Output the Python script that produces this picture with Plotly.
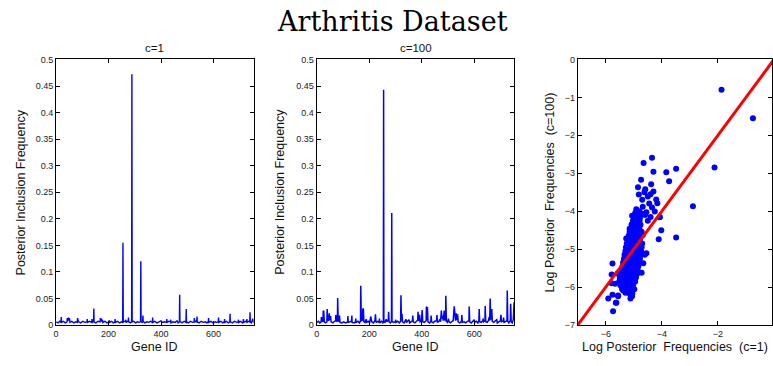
import plotly.graph_objects as go

c1_gene = [1, 8, 14, 19, 20, 21, 28, 35, 42, 43, 45, 47, 49, 51, 53, 60, 68, 75, 81, 82, 84, 86, 94, 102, 110,
           118, 119, 120, 128, 136, 137, 138, 143, 144, 145, 152, 160, 168, 169, 171, 173, 175, 177, 178, 186,
           194, 202, 203, 204, 212, 218, 224, 225, 226, 234, 242, 249, 254, 255, 256, 260, 265, 266, 267, 272,
           275, 276, 277, 283, 288, 289, 290, 296, 303, 310, 316, 322, 323, 324, 328, 330, 331, 332, 338, 346,
           354, 360, 367, 368, 369, 376, 384, 392, 398, 400, 405, 413, 421, 422, 423, 430, 436, 437, 438, 446,
           454, 461, 465, 470, 471, 472, 474, 480, 488, 495, 496, 497, 504, 512, 520, 526, 527, 528, 532, 536,
           537, 538, 545, 553, 561, 569, 575, 580, 581, 582, 590, 598, 606, 612, 618, 619, 620, 628, 635, 641,
           642, 643, 650, 656, 662, 663, 664, 672, 680, 688, 694, 695, 696, 704, 710, 713, 714, 715, 722, 726,
           727, 728, 734, 738, 739, 740, 744, 748, 750, 752, 755]
c1_freq = [0.006, 0.004, 0.007, 0.005, 0.015, 0.005, 0.007, 0.004, 0.006, 0.013, 0.008, 0.014, 0.009, 0.013, 0.005,
           0.007, 0.004, 0.006, 0.005, 0.013, 0.009, 0.006, 0.004, 0.007, 0.005, 0.006, 0.011, 0.005, 0.007, 0.005,
           0.011, 0.005, 0.006, 0.031, 0.006, 0.004, 0.007, 0.006, 0.013, 0.008, 0.012, 0.006, 0.010, 0.005, 0.007,
           0.004, 0.006, 0.009, 0.005, 0.007, 0.004, 0.006, 0.011, 0.005, 0.007, 0.004, 0.006, 0.005, 0.155, 0.005,
           0.007, 0.006, 0.010, 0.005, 0.007, 0.006, 0.014, 0.006, 0.004, 0.006, 0.472, 0.006, 0.007, 0.004, 0.006,
           0.005, 0.006, 0.120, 0.006, 0.005, 0.006, 0.018, 0.007, 0.004, 0.006, 0.005, 0.007, 0.005, 0.014, 0.005,
           0.007, 0.004, 0.006, 0.007, 0.008, 0.005, 0.006, 0.005, 0.011, 0.005, 0.007, 0.006, 0.010, 0.004, 0.006,
           0.005, 0.008, 0.004, 0.006, 0.057, 0.007, 0.006, 0.004, 0.007, 0.005, 0.030, 0.006, 0.004, 0.007, 0.005,
           0.006, 0.013, 0.005, 0.007, 0.006, 0.016, 0.006, 0.004, 0.007, 0.005, 0.006, 0.004, 0.006, 0.013, 0.005,
           0.007, 0.004, 0.006, 0.005, 0.006, 0.014, 0.005, 0.007, 0.004, 0.006, 0.011, 0.005, 0.007, 0.004, 0.006,
           0.021, 0.006, 0.004, 0.007, 0.005, 0.006, 0.010, 0.005, 0.007, 0.004, 0.006, 0.011, 0.005, 0.007, 0.006,
           0.011, 0.005, 0.007, 0.006, 0.024, 0.006, 0.004, 0.008, 0.012, 0.006, 0.005]

c100_gene = [1, 6, 12, 17, 18, 20, 24, 25, 27, 29, 34, 39, 40, 42, 46, 48, 50, 53, 55, 62, 68, 72, 73, 75, 79, 80,
             82, 85, 87, 89, 96, 103, 110, 118, 119, 120, 127, 133, 134, 135, 142, 148, 149, 150, 157, 163, 167,
             168, 170, 174, 176, 178, 180, 184, 189, 190, 197, 202, 206, 208, 210, 216, 222, 224, 226, 232, 238,
             239, 240, 247, 252, 254, 255, 256, 260, 265, 267, 273, 274, 276, 281, 285, 286, 287, 293, 300, 301,
             302, 309, 315, 320, 321, 323, 325, 327, 333, 338, 340, 342, 348, 352, 354, 360, 365, 366, 368, 374,
             380, 385, 386, 388, 392, 394, 399, 402, 404, 410, 417, 418, 420, 422, 424, 430, 435, 436, 438, 444,
             450, 457, 458, 460, 466, 470, 472, 475, 477, 480, 482, 486, 488, 491, 492, 494, 498, 502, 504, 510,
             516, 520, 524, 526, 529, 532, 534, 537, 539, 545, 552, 553, 555, 562, 568, 575, 580, 581, 583, 589,
             595, 600, 602, 608, 614, 618, 619, 621, 627, 633, 634, 636, 641, 642, 644, 650, 655, 657, 659, 661,
             663, 667, 669, 675, 681, 686, 688, 694, 700, 702, 704, 710, 712, 714, 720, 725, 726, 728, 732, 735,
             738, 739, 741, 745, 749, 752, 754, 755]
c100_freq = [0.005, 0.007, 0.004, 0.006, 0.015, 0.008, 0.006, 0.027, 0.026, 0.006, 0.004, 0.006, 0.030, 0.010,
             0.008, 0.022, 0.009, 0.017, 0.006, 0.004, 0.007, 0.008, 0.019, 0.008, 0.006, 0.051, 0.007, 0.008,
             0.018, 0.005, 0.004, 0.006, 0.004, 0.006, 0.017, 0.005, 0.006, 0.007, 0.018, 0.005, 0.004, 0.006,
             0.012, 0.005, 0.007, 0.004, 0.008, 0.074, 0.008, 0.009, 0.031, 0.030, 0.006, 0.005, 0.011, 0.005,
             0.007, 0.004, 0.016, 0.010, 0.006, 0.004, 0.008, 0.020, 0.005, 0.007, 0.005, 0.012, 0.004, 0.007,
             0.004, 0.006, 0.443, 0.006, 0.005, 0.011, 0.006, 0.010, 0.025, 0.006, 0.004, 0.007, 0.211, 0.007,
             0.005, 0.006, 0.010, 0.005, 0.007, 0.004, 0.007, 0.056, 0.008, 0.021, 0.006, 0.004, 0.008, 0.011,
             0.005, 0.007, 0.010, 0.004, 0.006, 0.008, 0.018, 0.006, 0.004, 0.007, 0.009, 0.025, 0.008, 0.019,
             0.006, 0.007, 0.028, 0.006, 0.005, 0.008, 0.035, 0.009, 0.034, 0.006, 0.004, 0.007, 0.018, 0.006,
             0.004, 0.007, 0.008, 0.019, 0.005, 0.007, 0.011, 0.006, 0.027, 0.012, 0.018, 0.008, 0.027, 0.010,
             0.008, 0.055, 0.007, 0.005, 0.012, 0.006, 0.004, 0.007, 0.008, 0.035, 0.010, 0.008, 0.022, 0.009,
             0.020, 0.006, 0.004, 0.007, 0.019, 0.005, 0.006, 0.004, 0.007, 0.008, 0.035, 0.006, 0.004, 0.008,
             0.010, 0.005, 0.007, 0.004, 0.008, 0.030, 0.006, 0.005, 0.008, 0.012, 0.006, 0.008, 0.036, 0.006,
             0.005, 0.009, 0.015, 0.008, 0.050, 0.010, 0.030, 0.007, 0.005, 0.008, 0.010, 0.004, 0.006, 0.008,
             0.019, 0.006, 0.007, 0.014, 0.005, 0.007, 0.008, 0.065, 0.007, 0.004, 0.008, 0.009, 0.040, 0.006,
             0.004, 0.010, 0.043, 0.006, 0.005]

log_c1 = [
    -1.87, -0.75, -2.12, -2.89, -3.49, -3.49, -3.84, -3.74, -4.02, -4.11, -4.07, -4.35, -4.65, -4.30, -4.74,
    -5.74, -5.91, -5.76, -5.62, -5.56, -5.79, -5.76, -5.09, -5.12, -5.20, -4.55,
    -4.85, -4.38, -4.30, -4.59, -4.82, -4.50, -4.20, -4.16, -4.91, -4.68, -4.55, -4.25, -4.08, -5.06, -4.79,
    -4.50, -5.15, -4.68, -5.27, -4.61, -4.66, -4.72, -5.79, -5.58, -5.67, -5.15, -5.38, -5.56, -5.64, -5.06,
    -4.62, -4.40, -4.70, -4.45, -4.35, -4.60, -4.40, -4.80,
    -5.30, -5.18, -5.05,
    -5.42, -5.30, -5.22, -5.10, -4.98,
    -5.48, -5.35, -5.25, -5.14, -5.02,
    -5.52, -5.40, -5.28, -5.18, -5.06, -4.95,
    -5.50, -5.38, -5.27, -5.15, -5.04, -4.92,
    -5.45, -5.33, -5.22, -5.12, -5.00, -4.88,
    -5.42, -5.32, -5.20, -5.08, -4.97, -4.86,
    -5.40, -5.28, -5.17, -5.06, -4.95, -4.84,
    -5.38, -5.26, -5.15, -5.03, -4.92, -4.80,
    -5.35, -5.24, -5.12, -5.01, -4.90, -4.78,
    -5.33, -5.22, -5.10, -4.99, -4.88, -4.76,
    -5.30, -5.18, -5.07, -4.96, -4.85, -4.74,
    -5.28, -5.16, -5.05, -4.94, -4.83, -4.72,
    -5.25, -5.13, -5.02, -4.92, -4.80, -4.70,
    -5.22, -5.10, -5.00, -4.89, -4.78,
    -5.18, -5.07, -4.97, -4.86, -4.75,
    -5.15, -5.04, -4.94, -4.83, -4.72,
    -5.10, -5.00, -4.90, -4.80,
    -5.08, -4.97, -4.87, -4.76,
    -5.03, -4.93, -4.83,
    -5.00, -4.90, -4.78,
    -4.95, -4.84, -4.70,
]
log_c100 = [
    -0.80, -1.55, -2.85, -3.87, -2.88, -4.69, -2.97, -3.21, -4.50, -4.74, -4.15, -2.59, -2.73, -2.96, -3.17,
    -6.64, -6.30, -6.20, -6.41, -6.24, -5.90, -5.38, -6.24, -6.30, -6.14, -5.11,
    -3.37, -3.29, -3.48, -3.42, -3.56, -3.61, -3.69, -3.79, -3.95, -3.88, -4.03, -4.01, -4.16, -4.12, -4.25,
    -4.25, -4.46, -4.63, -4.72, -5.15, -5.37, -5.62, -5.67, -5.64, -5.91, -6.17, -6.09, -6.22, -6.41, -6.24,
    -3.50, -3.55, -3.70, -3.80, -3.90, -4.10, -4.15, -4.00,
    -6.15, -6.13, -6.17,
    -6.05, -6.03, -6.07, -6.04, -6.06,
    -5.95, -5.97, -5.93, -5.96, -5.94,
    -5.85, -5.83, -5.87, -5.84, -5.86, -5.85,
    -5.75, -5.77, -5.73, -5.76, -5.74, -5.75,
    -5.65, -5.63, -5.67, -5.64, -5.66, -5.65,
    -5.55, -5.57, -5.53, -5.56, -5.54, -5.55,
    -5.45, -5.43, -5.47, -5.44, -5.46, -5.45,
    -5.35, -5.37, -5.33, -5.36, -5.34, -5.35,
    -5.25, -5.23, -5.27, -5.24, -5.26, -5.25,
    -5.15, -5.17, -5.13, -5.16, -5.14, -5.15,
    -5.05, -5.03, -5.07, -5.04, -5.06, -5.05,
    -4.95, -4.97, -4.93, -4.96, -4.94, -4.95,
    -4.85, -4.83, -4.87, -4.84, -4.86, -4.85,
    -4.75, -4.77, -4.73, -4.76, -4.74,
    -4.65, -4.63, -4.67, -4.64, -4.66,
    -4.55, -4.57, -4.53, -4.56, -4.54,
    -4.45, -4.43, -4.47, -4.44,
    -4.35, -4.37, -4.33, -4.36,
    -4.25, -4.23, -4.27,
    -4.15, -4.13, -4.17,
    -4.05, -4.03, -4.07,
]
diag_x = [-7, 0]
diag_y = [-7, 0]

freq_ticks = [0, 0.05, 0.1, 0.15, 0.2, 0.25, 0.3, 0.35, 0.4, 0.45, 0.5]
freq_labels = ["0", "0.05", "0.1", "0.15", "0.2", "0.25", "0.3", "0.35", "0.4", "0.45", "0.5"]
gene_ticks = [0, 200, 400, 600]
log_y_ticks = [0, -1, -2, -3, -4, -5, -6, -7]
log_x_ticks = [-6, -4, -2]

W, H = 773, 366
BLUE = "#0000ff"
fig = go.Figure()
fig.add_trace(go.Scatter(x=c1_gene, y=c1_freq, mode="lines", line=dict(color=BLUE, width=1.4),
                         xaxis="x", yaxis="y", showlegend=False))
fig.add_trace(go.Scatter(x=c100_gene, y=c100_freq, mode="lines", line=dict(color=BLUE, width=1.5),
                         xaxis="x2", yaxis="y2", showlegend=False))
fig.add_trace(go.Scatter(x=log_c1, y=log_c100, mode="markers",
                         marker=dict(color=BLUE, size=6, line=dict(width=0)),
                         xaxis="x3", yaxis="y3", showlegend=False))
fig.add_trace(go.Scatter(x=diag_x, y=diag_y, mode="lines", line=dict(color="#ff0000", width=3),
                         xaxis="x3", yaxis="y3", showlegend=False))

tickfont = dict(family="Liberation Sans, Arial, sans-serif", size=9, color="#222")
common = dict(showline=True, linecolor="black", linewidth=1, mirror="ticks", ticks="inside",
              ticklen=4, tickcolor="black", showgrid=False, zeroline=False, tickfont=tickfont)

ydom = [1 - 329 / H, 1 - 56 / H]
d1 = [53.3 / W, 252 / W]
d2 = [315.3 / W, 514 / W]
d3 = [577.7 / W, 1.0]

fig.update_layout(
    width=W, height=H, margin=dict(l=0, r=0, t=0, b=0),
    paper_bgcolor="white", plot_bgcolor="white",
    xaxis=dict(domain=d1, range=[0, 753], tickvals=gene_ticks, anchor="y", **common),
    yaxis=dict(domain=ydom, range=[0, 0.5], tickvals=freq_ticks, ticktext=freq_labels, anchor="x", **common),
    xaxis2=dict(domain=d2, range=[0, 753], tickvals=gene_ticks, anchor="y2", **common),
    yaxis2=dict(domain=ydom, range=[0, 0.5], tickvals=freq_ticks, ticktext=freq_labels, anchor="x2", **common),
    xaxis3=dict(domain=d3, range=[-7, -0.07], tickvals=log_x_ticks, anchor="y3", **common),
    yaxis3=dict(domain=ydom, range=[-7, 0], tickvals=log_y_ticks, anchor="x3", **common),
)

labfont = dict(family="Liberation Sans, Arial, sans-serif", size=12.5, color="#111")
sp2 = "\u00a0\u00a0"
ann = [
    dict(text="Arthritis Dataset", x=0.5065, y=1 - 17 / H,
         font=dict(family="DejaVu Serif, serif", size=27, color="black")),
    dict(text="c=1", x=(d1[0] + d1[1]) / 2, y=1 - 44 / H, font=dict(family=labfont["family"], size=11.5, color="#111")),
    dict(text="c=100", x=(d2[0] + d2[1]) / 2, y=1 - 44 / H, font=dict(family=labfont["family"], size=11.5, color="#111")),
    dict(text="Posterior Inclusion Frequency", x=18.3 / W, y=1 - 192.5 / H, textangle=-90, font=labfont),
    dict(text="Posterior Inclusion Frequency", x=279 / W, y=1 - 192.5 / H, textangle=-90, font=labfont),
    dict(text="Log Posterior" + sp2 + "Frequencies" + sp2 + "(c=100)", x=550 / W, y=1 - 192.5 / H,
         textangle=-90, font=labfont),
    dict(text="Gene ID", x=(d1[0] + d1[1]) / 2, y=1 - 352 / H, font=labfont),
    dict(text="Gene ID", x=(d2[0] + d2[1]) / 2, y=1 - 352 / H, font=labfont),
    dict(text="Log Posterior" + sp2 + "Frequencies" + sp2 + "(c=1)", x=675.9 / W, y=1 - 352 / H, font=labfont),
]
for a in ann:
    fig.add_annotation(xref="paper", yref="paper", showarrow=False, xanchor="center", yanchor="middle", **a)

fig.write_html("out.html")
